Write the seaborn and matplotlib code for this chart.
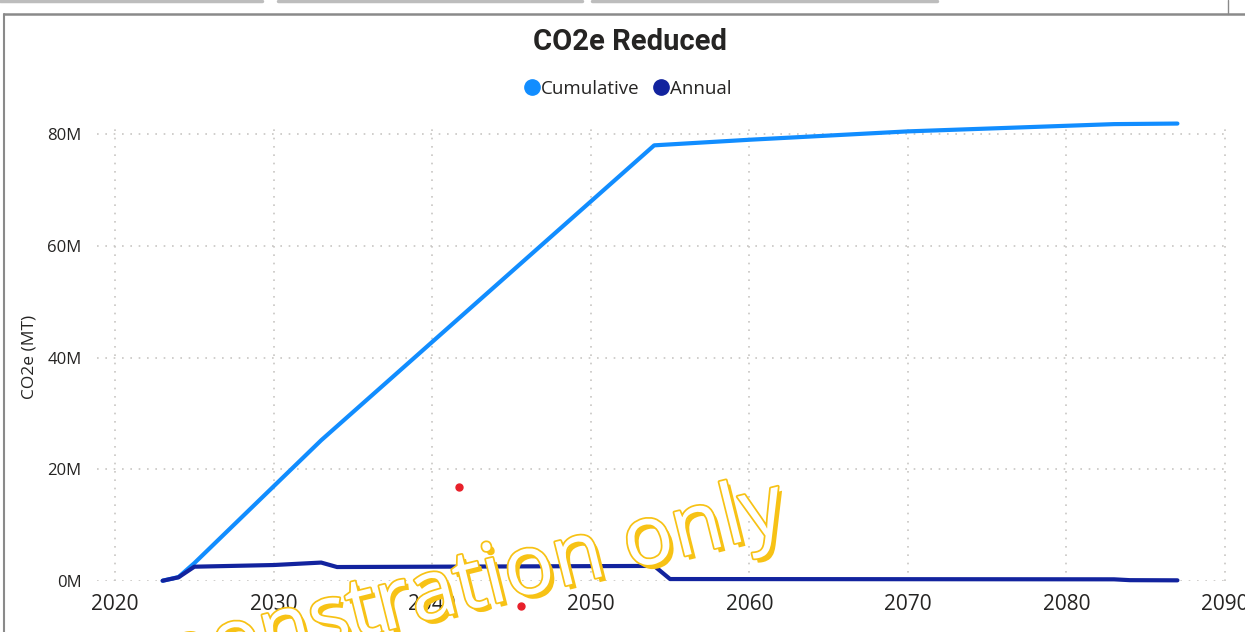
import matplotlib
matplotlib.use('Agg')
import matplotlib.pyplot as plt
import matplotlib.patheffects as pe
from matplotlib.lines import Line2D
import numpy as np
import pandas as pd
import seaborn as sns

# values, in millions of metric tonnes
cumulative_years = [2023, 2024, 2025, 2033, 2054, 2060, 2070, 2079, 2083, 2087]
cumulative_values = [0.05, 0.7, 3.2, 25.2, 78.0, 79.0, 80.5, 81.4, 81.8, 81.9]

annual_years = [2023, 2024, 2025, 2030, 2033, 2034, 2054, 2055, 2083, 2084, 2087]
annual_values = [0.05, 0.66, 2.56, 2.86, 3.3, 2.5, 2.7, 0.35, 0.3, 0.15, 0.12]

red_dot_years = [2041.7, 2045.6]
red_dot_values = [16.8, -4.5]

x_ticks = [2020, 2030, 2040, 2050, 2060, 2070, 2080, 2090]
y_ticks = [0, 20, 40, 60, 80]
y_tick_labels = ['0M', '20M', '40M', '60M', '80M']

CUMULATIVE_COLOR = '#118DFF'
ANNUAL_COLOR = '#12239E'
TEXT_COLOR = '#252423'
W, H = 1245, 632


def build_frame():
    cum = pd.DataFrame({'Year': cumulative_years, 'CO2e': cumulative_values,
                        'Series': 'Cumulative'})
    ann = pd.DataFrame({'Year': annual_years, 'CO2e': annual_values,
                        'Series': 'Annual'})
    return pd.concat([cum, ann], ignore_index=True)


def main():
    sns.set_style('white')
    plt.rcParams['font.family'] = ['Open Sans', 'DejaVu Sans']

    fig = plt.figure(figsize=(W / 100, H / 100), dpi=100)
    ax = fig.add_axes([97 / W, 1 - 581 / H, (1228 - 97) / W, (581 - 123) / H])

    df = build_frame()
    sns.lineplot(
        data=df, x='Year', y='CO2e', hue='Series',
        hue_order=['Cumulative', 'Annual'],
        palette={'Cumulative': CUMULATIVE_COLOR, 'Annual': ANNUAL_COLOR},
        linewidth=3.0, legend=False, ax=ax,
        solid_capstyle='round', solid_joinstyle='round'
    )
    for line in ax.lines:
        line.set_clip_on(False)

    ax.plot(red_dot_years, red_dot_values, 'o', color='#E8202A',
            markersize=5, clip_on=False, zorder=5)

    ax.set_xlim(2018.86, 2090.19)
    ax.set_ylim(0, 82)
    ax.set_xticks(x_ticks)
    ax.set_yticks(y_ticks)
    ax.set_yticklabels(y_tick_labels)
    ax.tick_params(axis='x', labelsize=15, colors=TEXT_COLOR, length=0, pad=9)
    ax.tick_params(axis='y', labelsize=12, colors=TEXT_COLOR, length=0, pad=11)
    for s in ax.spines.values():
        s.set_visible(False)
    ax.grid(True, color='#C8C6C4', linestyle=(0, (1, 4)), linewidth=1.2)
    ax.set_xlabel('')
    ax.set_ylabel('CO2e (MT)', fontsize=12.5, color=TEXT_COLOR)
    ax.yaxis.set_label_coords(-60 / (1228 - 97), (581 - 357) / (581 - 123))

    fig.text(630 / W, 1 - 42 / H, 'CO2e Reduced', ha='center', va='center',
             fontsize=21, fontweight='bold', color=TEXT_COLOR,
             family=['Roboto', 'DejaVu Sans'])

    handles = [
        Line2D([], [], marker='o', linestyle='none', markersize=11,
               color=CUMULATIVE_COLOR, label='Cumulative'),
        Line2D([], [], marker='o', linestyle='none', markersize=11,
               color=ANNUAL_COLOR, label='Annual'),
    ]
    leg = fig.legend(handles=handles, loc='center', ncol=2,
                     bbox_to_anchor=(626 / W, 1 - 89 / H), frameon=False,
                     fontsize=13.5, handletextpad=-0.1, columnspacing=0.5,
                     handlelength=1.2)
    for t in leg.get_texts():
        t.set_color(TEXT_COLOR)

    # window chrome from the screenshot
    fig.add_artist(Line2D([4 / W, 1], [1 - 14 / H] * 2, color='#8A8A8A', lw=1.8))
    fig.add_artist(Line2D([4 / W] * 2, [0, 1 - 14 / H], color='#8A8A8A', lw=1.5))
    fig.add_artist(Line2D([1228 / W] * 2, [1 - 14 / H, 1], color='#8A8A8A', lw=1))
    for x0, x1 in [(0, 262), (278, 582), (592, 937)]:
        fig.add_artist(Line2D([x0 / W, x1 / W], [1 - 1 / H] * 2,
                              color='#BDBDBD', lw=2.5))

    # watermark
    fig.text(788 / W, 1 - 530 / H, 'demonstration only', ha='right',
             va='baseline', rotation=14, rotation_mode='anchor',
             fontsize=60, color='white',
             path_effects=[
                 pe.SimplePatchShadow(offset=(3, -3),
                                      shadow_rgbFace='#F7C215', alpha=1),
                 pe.Stroke(linewidth=2.5, foreground='#F7C215'),
                 pe.Normal()
             ], zorder=10)

    fig.savefig('out.png', dpi=100)


if __name__ == '__main__':
    main()
